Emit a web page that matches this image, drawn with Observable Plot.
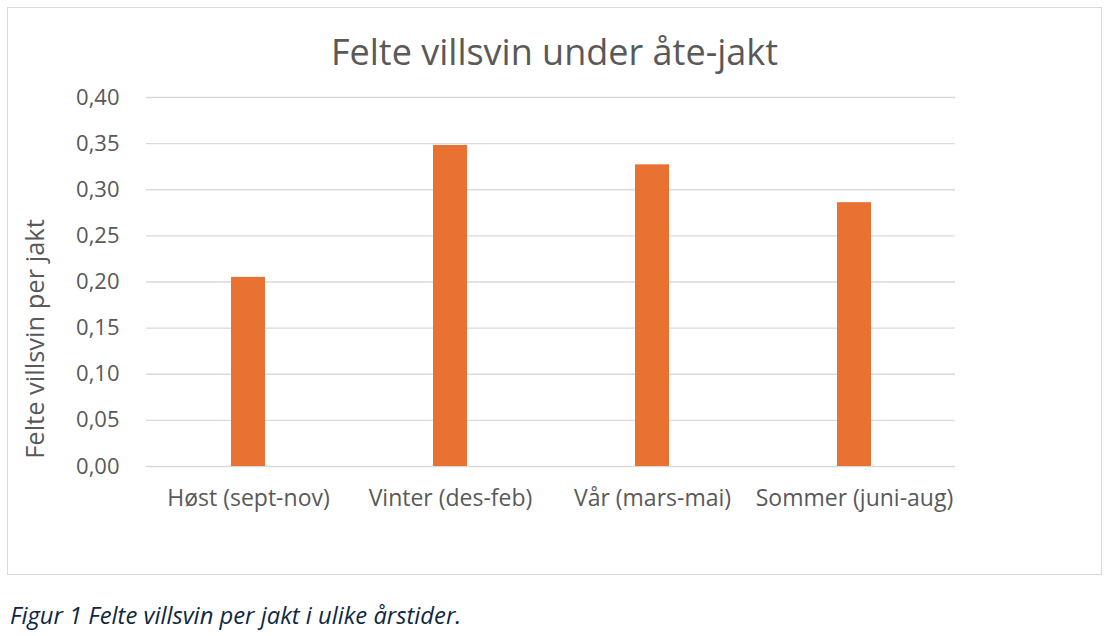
<!DOCTYPE html>
<html>
<head>
<meta charset="utf-8">
<script src="https://cdn.jsdelivr.net/npm/d3@7"></script>
<script src="https://cdn.jsdelivr.net/npm/@observablehq/plot@0.6"></script>
<style>
  html, body { margin: 0; padding: 0; background: #fff; }
  body { width: 1112px; height: 636px; position: relative; overflow: hidden; font-family: "Open Sans", Roboto, sans-serif; }
  #box { position: absolute; left: 7px; top: 7px; width: 1093px; height: 566px; border: 1.5px solid #d9d9d9; }
  #title { position: absolute; left: 0; top: 22px; width: 100%; text-align: center; font-size: 36px; color: #595959; margin: 0; font-weight: 400; line-height: 44px; }
  #chart { position: absolute; left: 0; top: 73px; }
  #ylabel { position: absolute; left: 26px; top: 331px; width: 0; height: 0; }
  #ylabel span { position: absolute; left: 0; top: 0; transform: translate(-50%, -50%) rotate(-90deg); white-space: nowrap; font-size: 25.5px; color: #595959; line-height: 28px; }
  #caption { position: absolute; left: 10px; top: 600px; font-size: 23.8px; font-style: italic; color: #0E2841; line-height: 30px; }
</style>
</head>
<body>
<div id="box">
  <div id="title">Felte villsvin under åte-jakt</div>
  <div id="chart"></div>
  <div id="ylabel"><span id="ylabeltext"></span></div>
</div>
<div id="caption">Figur 1 Felte villsvin per jakt i ulike årstider.</div>
<script>
const seasons = ["Høst (sept-nov)", "Vinter (des-feb)", "Vår (mars-mai)", "Sommer (juni-aug)"];
const values = [0.205, 0.348, 0.327, 0.286];
const yTicks = [0, 0.05, 0.10, 0.15, 0.20, 0.25, 0.30, 0.35, 0.40];
const yLabel = "Felte villsvin per jakt";

document.getElementById("ylabeltext").textContent = yLabel;

const data = seasons.map((s, i) => ({season: s, value: values[i]}));
const fmt = v => v.toFixed(2).replace(".", ",");

const chart = Plot.plot({
  width: 1093,
  height: 450,
  marginTop: 16,
  marginBottom: 65,
  marginLeft: 138,
  marginRight: 146,
  style: { fontFamily: "'Open Sans', Roboto, sans-serif", fontSize: "22px", color: "#595959", background: "transparent" },
  x: { domain: seasons, paddingInner: 0.832, paddingOuter: 0.416, label: null },
  y: { domain: [0, 0.40], label: null },
  marks: [
    Plot.ruleY(yTicks, { stroke: "#d9d9d9", strokeWidth: 1.4 }),
    Plot.barY(data, { x: "season", y: "value", fill: "#E97132" }),
    Plot.axisY({ ticks: yTicks, tickFormat: fmt, tickSize: 0, tickPadding: 27, label: null, fontSize: 22, fill: "#595959" }),
    Plot.axisX({ tickSize: 0, tickPadding: 23, fontSize: 23, fill: "#595959" })
  ]
});
document.getElementById("chart").appendChild(chart);
</script>
</body>
</html>
